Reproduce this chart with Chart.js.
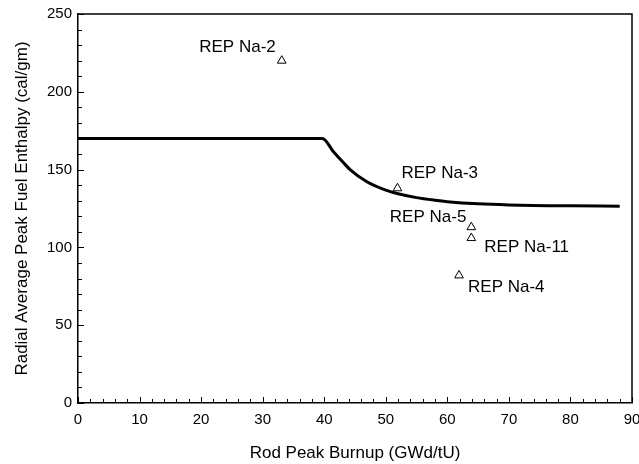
<!DOCTYPE html>
<html>
<head>
<meta charset="utf-8">
<script src="https://cdn.jsdelivr.net/npm/chart.js@4"></script>
<style>
  body { margin: 0; background: #fff; }
  #wrap { width: 639px; height: 464px; }
</style>
</head>
<body>
<div id="wrap"><canvas id="enthalpyChart"></canvas></div>
<script>
// Limit curve (burnup vs enthalpy)
let curveBurnup = [0, 10, 20, 30, 39.7, 41.5, 43, 44.2, 47, 50, 52, 55, 58, 60, 65, 70, 80, 88];
let curveEnthalpy = [170, 170, 170, 170, 170, 161.5, 155, 150, 142, 136.8, 134.5, 132, 130.3, 129.4, 128, 127.3, 126.7, 126.5];

// REP Na test points
let testNames = ['REP Na-2', 'REP Na-3', 'REP Na-5', 'REP Na-11', 'REP Na-4'];
let testBurnup = [33.1, 51.9, 63.9, 63.9, 61.9];
let testEnthalpy = [220, 138, 113, 106, 82];

// label placement relative to the marker, in pixels
let labelOffsets = [
    { dx: -6, dy: -13, align: 'right' },
    { dx: 4, dy: -15, align: 'left' },
    { dx: -5, dy: -10, align: 'right' },
    { dx: 13, dy: 9, align: 'left' },
    { dx: 9, dy: 12, align: 'left' }
];

let xTicks = [0, 10, 20, 30, 40, 50, 60, 70, 80, 90];
let yTicks = [0, 50, 100, 150, 200, 250];

const FONT = '"Liberation Sans", Arial, sans-serif';

// Inward tick marks, closed frame and the text next to each test point
const decorations = {
    id: 'decorations',
    afterDraw(chart) {
        const ctx = chart.ctx;
        const xs = chart.scales.x, ys = chart.scales.y;
        const area = chart.chartArea;
        ctx.save();
        ctx.strokeStyle = '#000';
        ctx.lineWidth = 1.5;
        ctx.beginPath();
        ctx.moveTo(area.left, area.top);
        ctx.lineTo(area.right, area.top);
        ctx.lineTo(area.right, area.bottom);
        ctx.stroke();

        ctx.lineWidth = 1;
        ctx.beginPath();
        for (let v = 0; v <= 90; v += 2) {
            const px = Math.round(xs.getPixelForValue(v)) + 0.5;
            const len = v % 10 === 0 ? 6 : 4;
            ctx.moveTo(px, area.bottom);
            ctx.lineTo(px, area.bottom - len);
        }
        for (let v = 0; v <= 250; v += 10) {
            const py = Math.round(ys.getPixelForValue(v)) + 0.5;
            const len = v % 50 === 0 ? 6 : 4;
            ctx.moveTo(area.left, py);
            ctx.lineTo(area.left + len, py);
        }
        ctx.stroke();

        ctx.fillStyle = '#000';
        ctx.font = '17px ' + FONT;
        ctx.textBaseline = 'middle';
        testNames.forEach((name, i) => {
            const px = xs.getPixelForValue(testBurnup[i]);
            const py = ys.getPixelForValue(testEnthalpy[i]);
            const o = labelOffsets[i];
            ctx.textAlign = o.align;
            ctx.fillText(name, px + o.dx, py + o.dy);
        });
        ctx.restore();
    }
};

let ctx = document.getElementById('enthalpyChart').getContext('2d');
let enthalpyChart = new Chart(ctx, {
    type: 'scatter',
    data: {
        datasets: [
            {
                label: 'Limit',
                data: curveBurnup.map((x, i) => ({ x: x, y: curveEnthalpy[i] })),
                showLine: true,
                borderColor: '#000',
                borderWidth: 3,
                pointRadius: 0,
                cubicInterpolationMode: 'monotone',
                fill: false
            },
            {
                label: 'REP Na',
                data: testBurnup.map((x, i) => ({ x: x, y: testEnthalpy[i] })),
                pointStyle: 'triangle',
                pointRadius: 5,
                borderColor: '#000',
                borderWidth: 1,
                backgroundColor: '#fff'
            }
        ]
    },
    plugins: [decorations],
    options: {
        responsive: true,
        maintainAspectRatio: false,
        animation: false,
        layout: { padding: { top: 14, right: 7, left: 0, bottom: 0 } },
        plugins: {
            legend: { display: false },
            tooltip: { enabled: false }
        },
        scales: {
            x: {
                type: 'linear',
                min: 0,
                max: 90,
                afterBuildTicks: axis => { axis.ticks = xTicks.map(v => ({ value: v })); },
                afterFit: axis => { axis.height = 61; axis.paddingRight = 0; axis.paddingLeft = 0; },
                grid: { display: false, drawTicks: false },
                border: { display: true, color: '#000', width: 1.5 },
                ticks: { color: '#000', font: { family: FONT, size: 15 }, padding: 8, maxRotation: 0 },
                title: {
                    display: true,
                    text: 'Rod Peak Burnup (GWd/tU)',
                    color: '#000',
                    font: { family: FONT, size: 17 },
                    padding: { top: 12, bottom: 0 }
                }
            },
            y: {
                type: 'linear',
                min: 0,
                max: 250,
                afterBuildTicks: axis => { axis.ticks = yTicks.map(v => ({ value: v })); },
                afterFit: axis => { axis.width = 78; axis.paddingTop = 0; axis.paddingBottom = 0; },
                grid: { display: false, drawTicks: false },
                border: { display: true, color: '#000', width: 1.5 },
                ticks: { color: '#000', font: { family: FONT, size: 15 }, padding: 6 },
                title: {
                    display: true,
                    text: 'Radial Average Peak Fuel Enthalpy (cal/gm)',
                    color: '#000',
                    font: { family: FONT, size: 17 },
                    padding: { top: 12, bottom: 4 }
                }
            }
        }
    }
});
</script>
</body>
</html>
